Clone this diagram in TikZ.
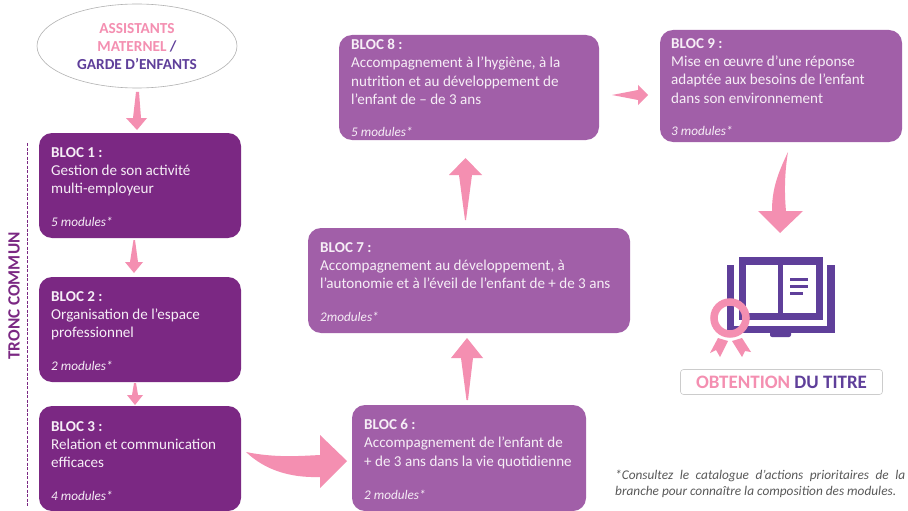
\documentclass[tikz,border=0pt]{standalone}
\usepackage{fontspec}
\setmainfont{Carlito}
\definecolor{darkp}{HTML}{7B2883}
\definecolor{lightp}{HTML}{A15FA8}
\definecolor{pinka}{HTML}{F48FB1}
\definecolor{indig}{HTML}{5F3F9A}
\definecolor{txtw}{HTML}{F6EEF6}
\tikzset{
  x=1pt,y=-1pt,
  bloc/.style={rounded corners=13pt,inner sep=0pt,outer sep=0pt},
  dk/.style={bloc,fill=darkp},
  lt/.style={bloc,fill=lightp},
  btext/.style={anchor=north west,inner sep=0pt,align=left,text=txtw,font=\fontsize{15.1}{18.3}\selectfont},
  mods/.style={anchor=west,inner sep=0pt,text=txtw,font=\fontsize{13.2}{15}\selectfont\itshape},
  parrow/.style={fill=pinka,draw=none},
}
\begin{document}
\begin{tikzpicture}
\useasboundingbox[fill=white] (0,0) rectangle (908,511);
% start ellipse
\draw[draw=black!30,fill=white,line width=.6pt] (137,46) ellipse [x radius=100,y radius=42];
\node[inner sep=0pt,align=center,font=\fontsize{15.3}{18.3}\selectfont\bfseries] (start) at (137,46.5)
 {\textcolor{pinka}{ASSISTANTS}\\\textcolor{pinka}{MATERNEL} \textcolor{indig}{/}\\\textcolor{indig}{GARDE D’ENFANTS}};
% boxes
\path[dk] (39,133) rectangle (241,238);
\path[dk] (39,277) rectangle (241,382);
\path[dk] (39,406) rectangle (241,511);
\path[lt] (352,405) rectangle (586,511);
\path[lt] (308,228) rectangle (630,333);
\path[lt] (339,35) rectangle (599,140);
\path[lt] (660,30) rectangle (902,142);
% texts
\node[btext] (b1) at (51,147) {\textbf{BLOC 1 :}\\Gestion de son activité\\multi-employeur};
\node[mods] (m1) at (51,222) {5 modules*};
\node[btext] (b2) at (51,291) {\textbf{BLOC 2 :}\\Organisation de l’espace\\professionnel};
\node[mods] (m2) at (51,366) {2 modules*};
\node[btext] (b3) at (51,421) {\textbf{BLOC 3 :}\\Relation et communication\\efficaces};
\node[mods] (m3) at (51,496) {4 modules*};
\node[btext] (b6) at (364,419) {\textbf{BLOC 6 :}\\Accompagnement de l’enfant de\\+ de 3 ans dans la vie quotidienne};
\node[mods] (m6) at (364,495) {2 modules*};
\node[btext] (b7) at (320,242) {\textbf{BLOC 7 :}\\Accompagnement au développement, à\\l’autonomie et à l’éveil de l’enfant de + de 3 ans};
\node[mods] (m7) at (320,317) {2modules*};
\node[btext] (b8) at (351,39) {\textbf{BLOC 8 :}\\Accompagnement à l’hygiène, à la\\nutrition et au développement de\\l’enfant de – de 3 ans};
\node[mods] (m8) at (351,132) {5 modules*};
\node[btext] (b9) at (671,38) {\textbf{BLOC 9 :}\\Mise en œuvre d’une réponse\\adaptée aux besoins de l’enfant\\dans son environnement};
\node[mods] (m9) at (671,131) {3 modules*};
% arrows
\fill[parrow] (136,92) -- (139,92) -- (141,118) -- (147,118) -- (137,130) -- (126,118) -- (133,118) -- cycle;
\fill[parrow] (133.5,240) -- (135,240) -- (138,262) -- (143,262) -- (134,273) -- (125,262) -- (130,262) -- cycle;
\fill[parrow] (134,383) -- (136,383) -- (138,395) -- (143,395) -- (135,405) -- (127,395) -- (132,395) -- cycle;
\fill[parrow] (246,452) .. controls (275,458) and (300,456) .. (320,455) -- (320,435) -- (347,461) -- (320,488) -- (320,477) .. controls (290,478) and (265,470) .. cycle;
\fill[parrow] (466.5,400) -- (468,400) -- (473,358) -- (483,358) -- (467,338) -- (451,358) -- (461,358) -- cycle;
\fill[parrow] (465,220) -- (466,220) -- (472,175) -- (482,175) -- (465.5,158) -- (449,175) -- (459,175) -- cycle;
\fill[parrow] (612,95) -- (638,90) -- (638,85) -- (648,95) -- (638,105) -- (638,100) -- cycle;
\fill[parrow] (788,152) .. controls (777,175) and (772,190) .. (772,211) -- (758,211) -- (780,233) -- (803,211) -- (786,211) .. controls (784,190) and (785,170) .. (788,152) -- cycle;
% icon
\fill[indig] (727,265) rectangle (734,333);
\fill[indig] (827,265) rectangle (835,333);
\fill[indig] (727,326) rectangle (835,333);
\fill[indig,rounded corners=2pt] (770,331) rectangle (791,337);
\fill[indig] (739,257) rectangle (823,320);
\fill[white] (746,265) rectangle (778,313);
\fill[white] (783,265) rectangle (816,313);
\fill[indig] (790,278) rectangle (808,281);
\fill[indig] (790,285) rectangle (808,288);
\fill[indig] (790,292) rectangle (803,295);
\fill[pinka] (718,338) -- (728,341) -- (720,357) -- (716,350) -- (710,353) -- cycle;
\fill[pinka] (732,341) -- (742,338) -- (751,352) -- (745,351) -- (742,357) -- cycle;
\draw[pinka,line width=7.5pt] (730,318) circle (16);
% title
\node[draw=black!20,fill=white,rounded corners=3pt,line width=.6pt,minimum width=202pt,minimum height=25pt,inner sep=0pt,font=\fontsize{19}{20}\selectfont\bfseries] (titre) at (781.5,382) {\textcolor{pinka}{OBTENTION} \textcolor{indig}{DU TITRE}};
% left label
\node[rotate=90,inner sep=0pt,text=darkp,font=\fontsize{17.2}{18}\selectfont\bfseries] (tc) at (14,296) {TRONC COMMUN};
\coordinate (dt) at (27.5,143);
\coordinate (db) at (27.5,507);
\draw[darkp,line width=1.6pt,dash pattern=on 3pt off 1.5pt] (dt) -- (db);
% note
\node[anchor=north west,inner sep=0pt,align=left,text=black!65,font=\fontsize{13.3}{16}\selectfont\itshape] (note) at (615,470) {\hbox to 290pt{*Consultez\hfill le\hfill catalogue\hfill d’actions\hfill prioritaires\hfill de\hfill la}\\branche pour connaître la composition des modules.};
\end{tikzpicture}
\end{document}
